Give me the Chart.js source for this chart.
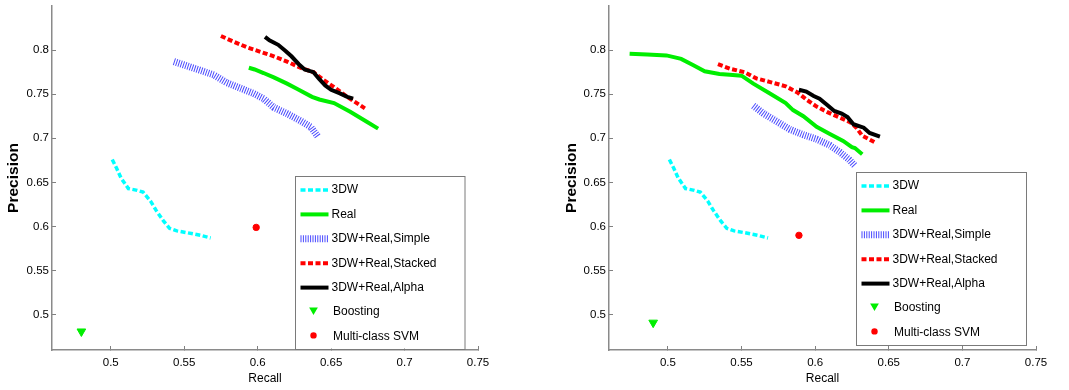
<!DOCTYPE html>
<html lang="en">
<head>
<meta charset="UTF-8" />
<title>Precision vs Recall</title>
<script src="https://cdn.jsdelivr.net/npm/chart.js"></script>
<style>
  body { margin: 0; background: #fff; }
  #wrap { position: relative; width: 1069px; height: 390px; }
  #leftChart { position: absolute; left: 0; top: 0; }
  #rightChart { position: absolute; left: 535px; top: 0; }
</style>
</head>
<body>
<div id="wrap">
  <canvas id="leftChart" width="535" height="390"></canvas>
  <canvas id="rightChart" width="534" height="390"></canvas>
</div>
<script>
// axis ticks
var xTicks = [0.5, 0.55, 0.6, 0.65, 0.7, 0.75];
var yTicks = [0.5, 0.55, 0.6, 0.65, 0.7, 0.75, 0.8];

var seriesNames = ["3DW", "Real", "3DW+Real,Simple", "3DW+Real,Stacked", "3DW+Real,Alpha", "Boosting", "Multi-class SVM"];

// [recall, precision] pairs
// the 3DW curve is the same in both panels
var curve3DW = [[0.501,0.676],[0.504,0.666],[0.507,0.655],[0.512,0.643],[0.518,0.641],[0.522,0.639],[0.527,0.629],[0.531,0.618],[0.536,0.606],[0.540,0.598],[0.545,0.595],[0.552,0.593],[0.561,0.590],[0.568,0.587]];

// left panel
var leftReal = [[0.594,0.780],[0.598,0.778],[0.604,0.774],[0.611,0.769],[0.620,0.762],[0.627,0.756],[0.637,0.747],[0.642,0.744],[0.652,0.740],[0.663,0.730],[0.674,0.719],[0.682,0.711]];
var leftSimple = [[0.543,0.787],[0.552,0.782],[0.561,0.777],[0.570,0.772],[0.579,0.763],[0.588,0.757],[0.597,0.751],[0.604,0.745],[0.611,0.735],[0.620,0.728],[0.629,0.720],[0.636,0.713],[0.641,0.702]];
var leftStacked = [[0.575,0.816],[0.583,0.810],[0.593,0.803],[0.602,0.798],[0.611,0.793],[0.620,0.787],[0.629,0.780],[0.638,0.775],[0.645,0.766],[0.652,0.758],[0.661,0.747],[0.673,0.734]];
var leftAlpha = [[0.605,0.815],[0.608,0.811],[0.614,0.806],[0.619,0.799],[0.623,0.793],[0.628,0.784],[0.632,0.778],[0.638,0.775],[0.642,0.767],[0.646,0.760],[0.650,0.755],[0.656,0.751],[0.661,0.747],[0.665,0.745]];
var leftBoosting = [[0.480,0.481]];
var leftSVM = [[0.599,0.599]];

// right panel
var rightReal = [[0.474,0.796],[0.486,0.795],[0.499,0.794],[0.509,0.790],[0.517,0.783],[0.525,0.776],[0.535,0.773],[0.542,0.772],[0.550,0.771],[0.558,0.762],[0.569,0.751],[0.580,0.740],[0.585,0.732],[0.592,0.725],[0.601,0.713],[0.610,0.705],[0.619,0.697],[0.625,0.690],[0.627,0.689],[0.632,0.682]];
var rightSimple = [[0.558,0.737],[0.565,0.728],[0.574,0.719],[0.583,0.710],[0.592,0.704],[0.601,0.699],[0.610,0.692],[0.617,0.684],[0.623,0.676],[0.627,0.669]];
var rightStacked = [[0.534,0.784],[0.542,0.779],[0.552,0.775],[0.560,0.768],[0.569,0.764],[0.580,0.759],[0.588,0.752],[0.594,0.744],[0.601,0.736],[0.608,0.730],[0.616,0.724],[0.624,0.718],[0.628,0.712],[0.632,0.703],[0.641,0.695]];
var rightAlpha = [[0.589,0.755],[0.594,0.753],[0.599,0.748],[0.603,0.745],[0.608,0.738],[0.613,0.731],[0.618,0.728],[0.622,0.724],[0.626,0.716],[0.633,0.712],[0.637,0.706],[0.644,0.702]];
var rightBoosting = [[0.490,0.491]];
var rightSVM = [[0.589,0.590]];

Chart.defaults.font.family = "'Liberation Sans', 'DejaVu Sans', sans-serif";
Chart.defaults.color = '#000';

var seriesStyles = [
  { color: '#00ffff', width: 3.5, dash: [5, 2.5] },
  { color: '#00ee00', width: 4, dash: [] },
  { color: '#4a4aff', width: 7, dash: [1, 1.4] },
  { color: '#ff0000', width: 4, dash: [5, 2.5] },
  { color: '#000000', width: 4, dash: [] },
  { color: '#00ee00', marker: 'triangle', radius: 5 },
  { color: '#ff0000', marker: 'circle', radius: 3.2 }
];

function toXY(pairs) {
  return pairs.map(function (p) { return { x: p[0], y: p[1] }; });
}

function makeDatasets(series) {
  return series.map(function (pairs, i) {
    var s = seriesStyles[i];
    var ds = { label: seriesNames[i], data: toXY(pairs), order: 10 - i };
    if (s.marker) {
      ds.showLine = false;
      ds.pointStyle = s.marker;
      ds.pointRotation = s.marker === 'triangle' ? 180 : 0;
      ds.pointRadius = s.radius;
      ds.backgroundColor = s.color;
      ds.borderColor = s.color;
      ds.borderWidth = 1;
    } else {
      ds.showLine = true;
      ds.pointRadius = 0;
      ds.borderColor = s.color;
      ds.borderWidth = s.width;
      ds.borderDash = s.dash;
      ds.tension = 0;
    }
    return ds;
  });
}

// boxed legend inside the plot, like the original figure
var boxLegend = {
  id: 'boxLegend',
  afterDraw: function (chart, args, o) {
    var ctx = chart.ctx;
    ctx.save();
    ctx.fillStyle = '#fff';
    ctx.fillRect(o.left, o.top, o.width, o.height);
    ctx.strokeStyle = '#7a7a7a';
    ctx.lineWidth = 1;
    ctx.strokeRect(Math.round(o.left) + 0.5, Math.round(o.top) + 0.5, o.width, o.height);
    chart.data.datasets.forEach(function (ds, i) {
      var s = seriesStyles[i];
      var y = o.top + 14.5 + i * 24.4;
      var x0 = o.left + 6;
      if (!s.marker) {
        ctx.beginPath();
        ctx.setLineDash(s.dash);
        ctx.lineWidth = s.width;
        ctx.strokeStyle = s.color;
        ctx.moveTo(x0, y);
        ctx.lineTo(x0 + 28, y);
        ctx.stroke();
        ctx.setLineDash([]);
      } else {
        var cx = x0 + 13, r = s.radius;
        ctx.fillStyle = s.color;
        ctx.beginPath();
        if (s.marker === 'triangle') {
          ctx.moveTo(cx - r * 0.87, y - 2 - r * 0.5);
          ctx.lineTo(cx + r * 0.87, y - 2 - r * 0.5);
          ctx.lineTo(cx, y - 2 + r);
          ctx.closePath();
        } else {
          ctx.arc(cx, y - 1, r, 0, Math.PI * 2);
        }
        ctx.fill();
      }
      ctx.fillStyle = '#000';
      ctx.font = "12px 'Liberation Sans', sans-serif";
      ctx.textBaseline = 'middle';
      ctx.fillText(ds.label, x0 + (s.marker ? 32.5 : 31), y);
    });
    ctx.restore();
  }
};

function tickText(v) {
  return String(+Number(v).toFixed(2));
}

function makeOptions(yAxisWidth, titlePad, rightPad, legendBox) {
  return {
    responsive: false,
    animation: false,
    layout: { padding: { left: 0, right: rightPad, top: 3, bottom: 0 } },
    plugins: {
      legend: { display: false },
      tooltip: { enabled: false },
      boxLegend: legendBox
    },
    scales: {
      x: {
        type: 'linear',
        min: 0.46,
        max: 0.75,
        afterBuildTicks: function (s) { s.ticks = xTicks.map(function (v) { return { value: v }; }); },
        afterFit: function (s) { s.height = 40; s.paddingLeft = 0; s.paddingRight = 0; },
        grid: { drawOnChartArea: false, drawTicks: true, tickLength: -4, color: '#808080', lineWidth: 1 },
        border: { color: '#8a8a8a', width: 1.5 },
        ticks: { padding: 10, font: { size: 11.5 }, maxRotation: 0, autoSkip: false, callback: tickText },
        title: { display: true, text: 'Recall', font: { size: 12 }, padding: { top: 0, bottom: 4 } }
      },
      y: {
        type: 'linear',
        min: 0.46,
        max: 0.85,
        afterBuildTicks: function (s) { s.ticks = yTicks.map(function (v) { return { value: v }; }); },
        afterFit: function (s) { s.width = yAxisWidth; s.paddingTop = 0; s.paddingBottom = 0; },
        grid: { drawOnChartArea: false, drawTicks: true, tickLength: -4, color: '#808080', lineWidth: 1 },
        border: { color: '#8a8a8a', width: 1.5 },
        ticks: { padding: 7, font: { size: 11.5 }, autoSkip: false, callback: tickText },
        title: { display: true, text: 'Precision', font: { size: 15.5, weight: 'bold' }, padding: { top: titlePad, bottom: 0 } }
      }
    }
  };
}

var leftChart = new Chart(document.getElementById('leftChart'), {
  type: 'scatter',
  data: { datasets: makeDatasets([curve3DW, leftReal, leftSimple, leftStacked, leftAlpha, leftBoosting, leftSVM]) },
  options: makeOptions(52, 4.7, 57, { left: 294.5, top: 175.5, width: 169.5, height: 173 }),
  plugins: [boxLegend]
});

var rightChart = new Chart(document.getElementById('rightChart'), {
  type: 'scatter',
  data: { datasets: makeDatasets([curve3DW, rightReal, rightSimple, rightStacked, rightAlpha, rightBoosting, rightSVM]) },
  options: makeOptions(74, 27.4, 33, { left: 320.5, top: 171.5, width: 170, height: 173 }),
  plugins: [boxLegend]
});
</script>
</body>
</html>
